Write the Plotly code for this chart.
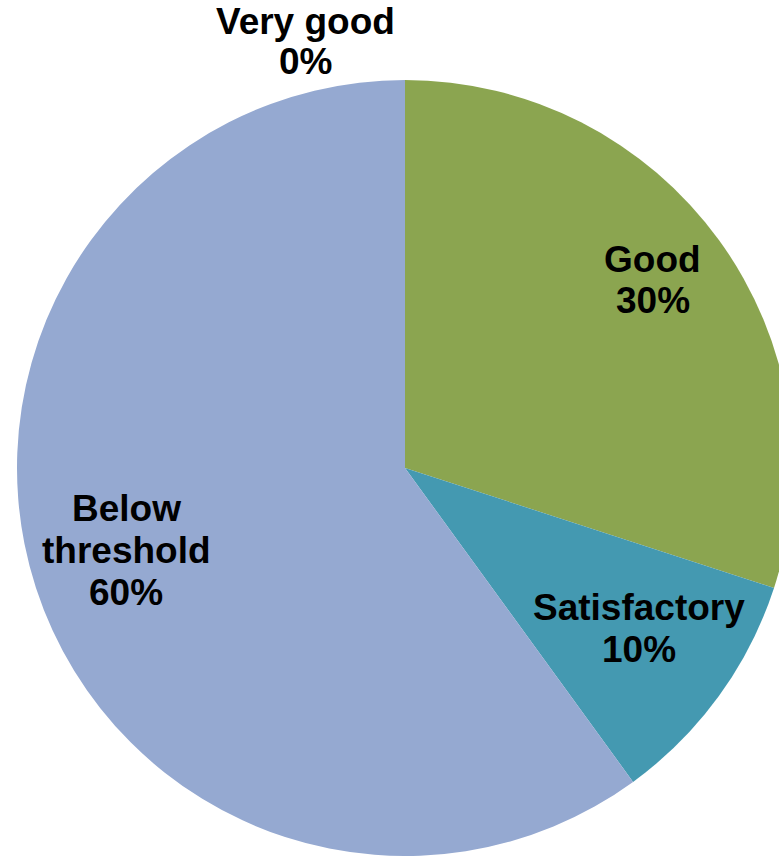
import math
import plotly.graph_objects as go

categories = ["Very good", "Good", "Satisfactory", "Below threshold"]
label_lines = [["Very good"], ["Good"], ["Satisfactory"], ["Below", "threshold"]]
shares = [0, 30, 10, 60]
colors = ["#4F81BD", "#8BA550", "#4499B1", "#95A9D1"]

# label placement (style): radial fraction, angular nudge (deg), line gap (px)
label_radius = [1.0, 0.802, 0.732, 0.750]
label_nudge = [0.0, -1.17, -1.47, 1.43]
line_gap = [40, 41, 42, 42]

W, H = 800, 856
cx, cy, r = 405, 468, 388   # pixel centre/radius inside the figure
FONT = "Liberation Sans, Arial, sans-serif"
FS = 37

fig = go.Figure(go.Pie(
    labels=categories,
    values=shares,
    textinfo="none",
    sort=False,
    direction="clockwise",
    rotation=0,
    marker=dict(colors=colors, line=dict(width=0)),
    domain=dict(x=[(cx - r) / W, (cx + r) / W], y=[(H - cy - r) / H, (H - cy + r) / H]),
    showlegend=False,
    hoverinfo="label+percent",
))


def add_label(lines, px, py, gap):
    n = len(lines)
    for i, t in enumerate(lines):
        yy = py + (i - (n - 1) / 2) * gap
        fig.add_annotation(
            text="<b>%s</b>" % t, x=px / W, y=1 - yy / H, xref="paper", yref="paper",
            xanchor="center", yanchor="middle", showarrow=False,
            font=dict(family=FONT, size=FS, color="black"),
        )


total = sum(shares)
cum = 0
for i, v in enumerate(shares):
    mid = (cum + v / 2) / total * 360
    cum += v
    lines = label_lines[i] + ["%d%%" % round(100 * v / total)]
    if v == 0:
        # zero slice: label sits above the pie, shifted left like the source
        add_label(lines, cx - 100, cy - r - 38, line_gap[i])
        continue
    a = math.radians(mid + label_nudge[i])
    k = label_radius[i]
    px = cx + k * r * math.sin(a)
    py = cy - k * r * math.cos(a)
    add_label(lines, px, py, line_gap[i])

fig.update_layout(
    width=W, height=H,
    margin=dict(l=0, r=0, t=0, b=0),
    paper_bgcolor="white", plot_bgcolor="white",
)

fig.write_html("out.html", config={"displayModeBar": False},
               post_script="document.body.style.margin='0px';")
